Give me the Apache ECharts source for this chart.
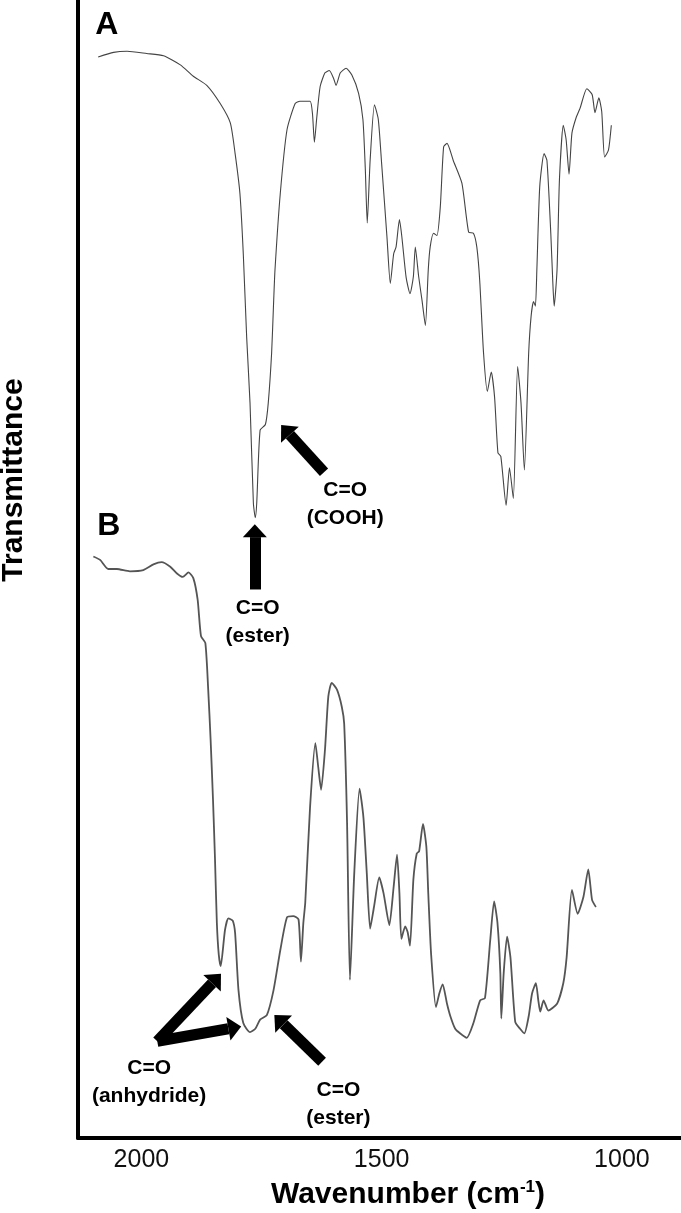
<!DOCTYPE html>
<html>
<head>
<meta charset="utf-8">
<script src="https://cdn.jsdelivr.net/npm/echarts@6/dist/echarts.min.js"></script>
<style>
  html, body { margin: 0; padding: 0; background: #fff; }
  #chart { width: 681px; height: 1213px; }
</style>
</head>
<body>
<div id="chart"></div>
<script>
  // spectrum A (upper trace), transmittance in arbitrary offset units
  var wavenumberA = [2090, 2058, 2030, 1989, 1954, 1919, 1892, 1864, 1836, 1815, 1805, 1795, 1788, 1781, 1774, 1767,
    1763, 1760, 1753, 1742, 1736, 1729, 1725, 1722, 1711, 1697, 1680, 1670, 1649, 1644, 1640, 1635, 1628, 1618, 1609,
    1600, 1595, 1586, 1574, 1562, 1548, 1539, 1534, 1530, 1524, 1515, 1507, 1500, 1489, 1482, 1475, 1470, 1463, 1458,
    1449, 1441, 1434, 1430, 1423, 1416, 1409, 1403, 1399, 1392, 1385, 1378, 1371, 1364, 1351, 1333, 1319, 1309, 1302,
    1296, 1288, 1280, 1272, 1265, 1258, 1252, 1241, 1234, 1226, 1217, 1210, 1203, 1194, 1189, 1184, 1180, 1177, 1171,
    1162, 1156, 1148, 1144, 1141, 1135, 1130, 1122, 1116, 1110, 1104, 1095, 1087, 1073, 1062, 1056, 1048, 1042, 1036,
    1028, 1022];
  var transA = [95.0, 95.4, 95.5, 95.3, 95.1, 94.3, 93.3, 92.5, 90.9, 89.2, 86.5, 83.0, 77.7, 70.4, 64.6, 55.8,
    54.5, 55.8, 62.2, 62.7, 64.6, 69.0, 73.3, 76.3, 83.0, 88.6, 90.9, 91.1, 91.1, 90.0, 87.5, 89.7, 92.4, 93.6, 93.8,
    93.1, 92.5, 93.6, 94.0, 93.4, 91.8, 89.5, 85.1, 80.4, 85.9, 90.8, 89.5, 85.6, 79.2, 75.1, 77.7, 78.3, 80.7, 79.2,
    75.6, 74.2, 75.7, 78.3, 75.7, 73.6, 71.4, 76.3, 78.3, 79.5, 79.3, 81.8, 87.1, 87.4, 85.9, 83.9, 79.6, 79.5, 78.3,
    75.4, 69.0, 65.6, 67.3, 65.1, 60.2, 59.9, 55.6, 58.9, 56.2, 67.8, 64.6, 58.7, 69.0, 72.2, 73.5, 73.1, 76.3, 83.6,
    86.5, 85.9, 79.5, 75.4, 73.1, 76.3, 84.2, 89.0, 87.7, 84.7, 88.3, 89.7, 90.5, 92.2, 91.7, 90.1, 91.4, 90.2, 86.2,
    86.8, 89.0];

  // spectrum B (lower trace)
  var wavenumberB = [2100, 2086, 2069, 2051, 2024, 1996, 1975, 1958, 1940, 1926, 1914, 1902, 1892, 1883, 1876, 1867,
    1861, 1856, 1851, 1847, 1843, 1839, 1835, 1826, 1819, 1810, 1805, 1798, 1788, 1774, 1763, 1753, 1739, 1725, 1711,
    1697, 1684, 1673, 1668, 1663, 1659, 1649, 1638, 1632, 1626, 1618, 1611, 1604, 1593, 1583, 1578, 1572, 1566, 1557,
    1546, 1538, 1531, 1524, 1516, 1505, 1496, 1484, 1475, 1468, 1463, 1459, 1451, 1446, 1441, 1434, 1427, 1422, 1414,
    1407, 1403, 1397, 1387, 1380, 1373, 1364, 1357, 1347, 1337, 1323, 1309, 1295, 1285, 1274, 1266, 1259, 1253, 1251,
    1246, 1239, 1232, 1222, 1212, 1203, 1194, 1187, 1179, 1174, 1170, 1163, 1153, 1135, 1122, 1115, 1104, 1092, 1080,
    1070, 1062, 1054];
  var transB = [51.1, 50.8, 50.0, 50.0, 49.8, 49.9, 50.4, 50.6, 50.2, 49.6, 49.3, 49.7, 49.2, 47.3, 44.1, 43.5,
    39.4, 35.0, 29.7, 24.7, 18.9, 16.1, 15.1, 18.3, 19.3, 19.1, 18.0, 13.0, 10.1, 9.3, 9.6, 10.4, 10.8, 13.0, 16.5,
    19.4, 19.5, 19.2, 15.5, 18.9, 20.7, 29.1, 34.7, 32.6, 30.6, 34.1, 38.8, 40.0, 39.4, 37.9, 36.4, 27.7, 13.9, 23.3,
    30.7, 28.2, 23.3, 18.4, 20.3, 22.9, 21.5, 18.7, 22.1, 24.9, 21.5, 17.5, 18.6, 18.1, 16.9, 22.7, 25.0, 25.2, 27.6,
    25.6, 21.5, 16.1, 11.5, 12.7, 13.5, 11.8, 10.7, 9.6, 9.2, 8.8, 10.1, 12.1, 12.3, 17.4, 20.8, 18.9, 14.5, 10.5,
    14.5, 17.7, 15.9, 10.2, 9.6, 9.2, 10.7, 12.7, 13.6, 12.1, 11.1, 12.1, 11.2, 11.8, 13.6, 15.9, 21.8, 19.7, 21.2,
    23.6, 20.9, 20.3];

  var xTicks = [2000, 1500, 1000];

  // annotation arrows: [tail, head base] in [wavenumber, transmittance]
  var arrowsA = [
    [[1764, 48.2], [1764, 52.8]],
    [[1620, 58.5], [1691, 61.8]]
  ];
  var arrowsB = [
    [[1967, 8.5], [1853, 13.6]],
    [[1967, 8.5], [1819, 9.6]],
    [[1624, 6.7], [1704, 10.0]]
  ];
  // annotation texts
  var labelsA = [
    { name: 'A', coord: [2072, 97.8], big: true },
    { name: 'C=O\n(ester)', coord: [1758, 45.3] },
    { name: 'C=O\n(COOH)', coord: [1576, 55.7] }
  ];
  var labelsB = [
    { name: 'B', coord: [2068, 53.8], big: true },
    { name: 'C=O\n(anhydride)', coord: [1984, 4.9] },
    { name: 'C=O\n(ester)', coord: [1590, 3.0] }
  ];

  function pairs(xs, ys) {
    return xs.map(function (x, i) { return [x, ys[i]]; });
  }

  function arrowLines(list) {
    return list.map(function (a) {
      return [
        { coord: a[0] },
        { coord: a[1], symbol: 'triangle', symbolSize: [24, 13], symbolOffset: [0, -6.5] }
      ];
    });
  }

  function textPoints(list) {
    return list.map(function (l) {
      var item = { name: l.name, coord: l.coord };
      if (l.big) {
        item.label = { fontSize: 32, lineHeight: 34 };
      }
      return item;
    });
  }

  var markLineStyle = {
    silent: true,
    animation: false,
    symbol: ['none', 'none'],
    label: { show: false },
    lineStyle: { color: '#000', width: 11, type: 'solid', cap: 'butt' },
    emphasis: { disabled: true }
  };

  var markPointStyle = {
    silent: true,
    animation: false,
    symbol: 'rect',
    symbolSize: 1,
    itemStyle: { color: 'rgba(0,0,0,0)' },
    label: {
      show: true,
      position: 'inside',
      formatter: '{b}',
      color: '#000',
      fontFamily: 'Liberation Sans',
      fontWeight: 'bold',
      fontSize: 21,
      lineHeight: 28
    }
  };

  var chart = echarts.init(document.getElementById('chart'));
  chart.setOption({
    animation: false,
    backgroundColor: '#fff',
    grid: { left: 78, right: 0, top: 0, bottom: 75 },
    xAxis: {
      type: 'value',
      min: 877,
      max: 2132,
      inverse: true,
      axisLine: { show: true, onZero: false, lineStyle: { color: '#000', width: 4 } },
      axisTick: { show: false },
      splitLine: { show: false },
      axisLabel: {
        customValues: xTicks,
        formatter: function (v) { return String(v); },
        fontSize: 25,
        color: '#111',
        margin: 10,
        fontFamily: 'Liberation Sans'
      }
    },
    yAxis: {
      type: 'value',
      min: 0,
      max: 100,
      axisLine: { show: true, lineStyle: { color: '#000', width: 4 } },
      axisTick: { show: false },
      axisLabel: { show: false },
      splitLine: { show: false }
    },
    graphic: [
      {
        type: 'text',
        x: 14,
        y: 480,
        rotation: Math.PI / 2,
        style: {
          text: 'Transmittance',
          font: 'bold 30px "Liberation Sans"',
          fill: '#000',
          align: 'center',
          verticalAlign: 'middle'
        }
      },
      {
        type: 'text',
        x: 408,
        y: 1195,
        style: {
          text: '{a|Wavenumber (cm}{b|-1}{a|)}',
          align: 'center',
          verticalAlign: 'middle',
          rich: {
            a: { font: 'bold 30px "Liberation Sans"', fill: '#000', lineHeight: 32 },
            b: { font: 'bold 17px "Liberation Sans"', fill: '#000', verticalAlign: 'top', lineHeight: 32 }
          }
        }
      }
    ],
    series: [
      {
        name: 'A',
        type: 'line',
        data: pairs(wavenumberA, transA),
        showSymbol: false,
        smooth: 0.2,
        silent: true,
        lineStyle: { color: '#444', width: 1.1 },
        markLine: Object.assign({ data: arrowLines(arrowsA) }, markLineStyle),
        markPoint: Object.assign({ data: textPoints(labelsA) }, markPointStyle)
      },
      {
        name: 'B',
        type: 'line',
        data: pairs(wavenumberB, transB),
        showSymbol: false,
        smooth: 0.2,
        silent: true,
        lineStyle: { color: '#555', width: 1.8 },
        markLine: Object.assign({ data: arrowLines(arrowsB) }, markLineStyle),
        markPoint: Object.assign({ data: textPoints(labelsB) }, markPointStyle)
      }
    ]
  });
</script>
</body>
</html>
